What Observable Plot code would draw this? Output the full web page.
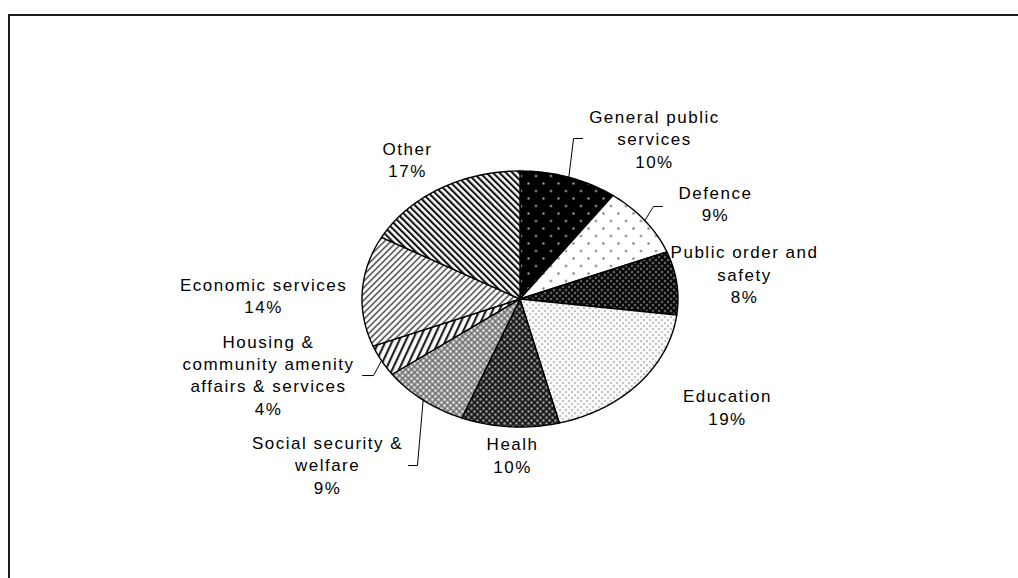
<!DOCTYPE html>
<html><head><meta charset="utf-8">
<script src="https://cdn.jsdelivr.net/npm/d3@7"></script>
<script src="https://cdn.jsdelivr.net/npm/@observablehq/plot@0.6"></script>
<style>
body{margin:0;background:#fff;}
#wrap{position:relative;width:1018px;height:578px;overflow:hidden;}
#border{position:absolute;left:8px;top:14px;width:1100px;height:700px;border-left:2px solid #1a1a1a;border-top:2px solid #1a1a1a;box-sizing:border-box;pointer-events:none;}
#wrap svg{position:absolute;left:0;top:0;}
</style></head>
<body>
<svg width="0" height="0" style="position:absolute">
<defs>
 <pattern id="pat0" patternUnits="userSpaceOnUse" width="15" height="15">
  <rect width="15" height="15" fill="#000"/>
  <circle cx="3" cy="3" r="1.1" fill="#ddd"/>
  <circle cx="10.5" cy="10.5" r="1.1" fill="#ddd"/>
 </pattern>
 <pattern id="pat1" patternUnits="userSpaceOnUse" width="15" height="15">
  <rect width="15" height="15" fill="#fff"/>
  <circle cx="3" cy="3" r="1.1" fill="#444"/>
  <circle cx="10.5" cy="10.5" r="1.1" fill="#444"/>
 </pattern>
 <pattern id="pat2" patternUnits="userSpaceOnUse" width="6" height="6">
  <rect width="6" height="6" fill="#000"/>
  <circle cx="1.5" cy="1.5" r="0.95" fill="#ccc"/>
  <circle cx="4.5" cy="4.5" r="0.95" fill="#ccc"/>
 </pattern>
 <pattern id="pat3" patternUnits="userSpaceOnUse" width="6" height="6">
  <rect width="6" height="6" fill="#fff"/>
  <circle cx="1.5" cy="1.5" r="0.85" fill="#666"/>
  <circle cx="4.5" cy="4.5" r="0.85" fill="#666"/>
 </pattern>
 <pattern id="pat4" patternUnits="userSpaceOnUse" width="6" height="6">
  <rect width="6" height="6" fill="#4a4a4a"/>
  <path d="M0,0L6,6M6,0L0,6" stroke="#111" stroke-width="1.5"/>
  <circle cx="3" cy="0" r="0.9" fill="#ddd"/>
  <circle cx="3" cy="6" r="0.9" fill="#ddd"/>
  <circle cx="0" cy="3" r="0.9" fill="#ddd"/>
  <circle cx="6" cy="3" r="0.9" fill="#ddd"/>
 </pattern>
 <pattern id="pat5" patternUnits="userSpaceOnUse" width="6" height="6">
  <rect width="6" height="6" fill="#b5b5b5"/>
  <path d="M0,0L6,6M6,0L0,6" stroke="#666" stroke-width="1.2"/>
  <circle cx="3" cy="0" r="1" fill="#fff"/>
  <circle cx="3" cy="6" r="1" fill="#fff"/>
  <circle cx="0" cy="3" r="1" fill="#fff"/>
  <circle cx="6" cy="3" r="1" fill="#fff"/>
 </pattern>
 <pattern id="pat6" patternUnits="userSpaceOnUse" width="6" height="6" patternTransform="rotate(25)">
  <rect width="6" height="6" fill="#fff"/>
  <rect x="0" width="2.2" height="6" fill="#222"/>
 </pattern>
 <pattern id="pat7" patternUnits="userSpaceOnUse" width="4.5" height="4.5" patternTransform="rotate(45)">
  <rect width="4.5" height="4.5" fill="#fff"/>
  <rect x="0" width="1.6" height="4.5" fill="#555"/>
 </pattern>
 <pattern id="pat8" patternUnits="userSpaceOnUse" width="4.6" height="4.6" patternTransform="rotate(-45)">
  <rect width="4.6" height="4.6" fill="#fff"/>
  <rect x="0" width="2.1" height="4.6" fill="#111"/>
 </pattern>
</defs>
</svg>
<div id="wrap"><div id="border"></div></div>
<script>
// ---- data ----
const categories = ["General public services", "Defence", "Public order and safety", "Education", "Healh",
  "Social security & welfare", "Housing & community amenity affairs & services", "Economic services", "Other"];
const labelLines = ["General public\nservices", "Defence", "Public order and\nsafety", "Education", "Healh",
  "Social security &\nwelfare", "Housing &\ncommunity amenity\naffairs & services", "Economic services", "Other"];
const shares = [10, 9, 8, 19, 10, 9, 4, 14, 17];

// ---- layout (data units of the pie: radius = 1) ----
const labelX = [0.851, 1.237, 1.421, 1.313, -0.047, -1.218, -1.592, -1.623, -0.712];
const labelY = [1.258, 0.75, 0.199, -0.840, -1.215, -1.289, -0.586, 0.031, 1.094];
// leader lines: index of slice, elbow point, end point
const leaderSlice = [0, 1, 6, 5];
const leaderElbow = [[0.339, 1.254], [0.845, 0.723], [-0.927, -0.598], [-0.649, -1.301]];
const leaderEnd = [[0.396, 1.254], [0.902, 0.723], [-0.997, -0.598], [-0.706, -1.301]];

// ---- build pie geometry ----
const arcs = d3.pie().sort(null).value(d => d)(shares);
const slicePts = arcs.map((a, i) => {
  const pts = [{x: 0, y: 0}];
  const n = Math.max(4, Math.ceil((a.endAngle - a.startAngle) / (Math.PI / 180)));
  for (let k = 0; k <= n; k++) {
    const t = a.startAngle + (a.endAngle - a.startAngle) * k / n;
    pts.push({x: Math.sin(t), y: Math.cos(t)});
  }
  pts.push({x: 0, y: 0});
  return pts;
});

const leaders = [];
leaderSlice.forEach((si, j) => {
  const a = arcs[si], m = (a.startAngle + a.endAngle) / 2;
  leaders.push({k: j, x: Math.sin(m), y: Math.cos(m)});
  leaders.push({k: j, x: leaderElbow[j][0], y: leaderElbow[j][1]});
  leaders.push({k: j, x: leaderEnd[j][0], y: leaderEnd[j][1]});
});

const labels = categories.map((c, i) => ({
  text: labelLines[i] + "\n" + shares[i] + "%",
  x: labelX[i], y: labelY[i]
}));

const chart = Plot.plot({
  width: 1018, height: 578, margin: 0,
  x: {domain: [-1, 1], range: [361.5, 677.5], axis: null},
  y: {domain: [-1, 1], range: [426.5, 170.5], axis: null},
  style: {fontFamily: "'Liberation Sans', Arial, sans-serif", fontSize: "17px", letterSpacing: "1.5px", background: "transparent", overflow: "visible"},
  marks: [
    ...slicePts.map((pts, i) => Plot.line(pts, {x: "x", y: "y", fill: `url(#pat${i})`, stroke: "#000", strokeWidth: 1.4, curve: "linear", strokeLinejoin: "round"})),
    Plot.line(leaders, {x: "x", y: "y", z: "k", stroke: "#000", strokeWidth: 1}),
    Plot.text(labels, {x: "x", y: "y", text: "text", fontSize: 17, lineHeight: 1.32, fill: "#000", textAnchor: "middle"})
  ]
});
document.getElementById("wrap").insertBefore(chart, document.getElementById("border"));
</script>
</body></html>
